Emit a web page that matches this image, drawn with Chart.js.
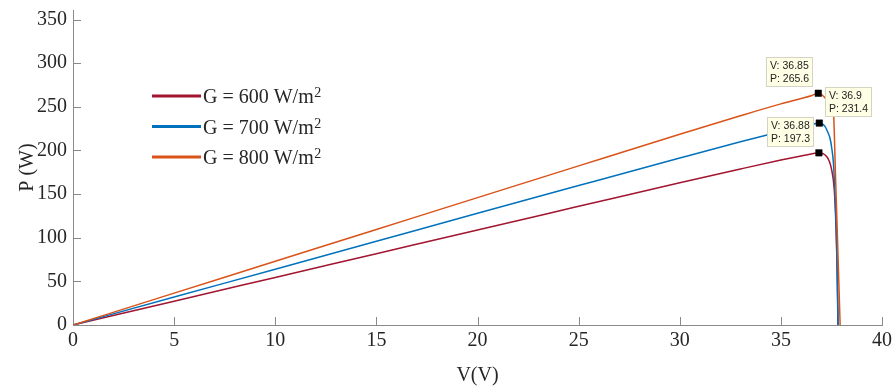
<!DOCTYPE html>
<html>
<head>
<meta charset="utf-8">
<script src="https://cdn.jsdelivr.net/npm/chart.js@4"></script>
<style>
html,body{margin:0;padding:0;background:#fff;}
</style>
</head>
<body>
<canvas id="chart" width="896" height="389"></canvas>
<script>

// =====================
// DATA
// =====================

const irradiance = [600, 700, 800];
const colors = ["#A2142F", "#0072BD", "#D95319"];

const v600 = [0,5,10,15,20,25,30,33,35,36,36.5,36.88,37.1,37.26,37.4,37.51,37.64,37.73,37.79,37.82];
const p600 = [0,27.3,54.5,81.7,108.9,136,163.1,178.8,189,193.8,196,197.3,196.2,193.2,187.5,178,155,109,52,0];

const v700 = [0,5,10,15,20,25,30,33,35,36,36.5,36.9,37.18,37.3,37.43,37.52,37.6,37.68,37.76,37.83];
const p700 = [0,32,64,96,128,159.8,191.4,210,221.8,227.3,229.7,231.4,227.6,222,214,202,185,147,90,0];

const v800 = [0,5,10,15,20,25,30,33,35,36,36.5,36.85,37.2,37.5,37.6,37.7,37.8,37.93];
const p800 = [0,36.5,73,109.5,146,182.4,218.6,239.8,253.4,259.6,262.8,265.6,260,249,243,172,98,0];

const mppV = [36.88, 36.9, 36.85];
const mppP = [197.3, 231.4, 265.6];

const xTicks = [0,5,10,15,20,25,30,35,40];
const yTicks = [0,50,100,150,200,250,300,350];

const seriesV = [v600, v700, v800];
const seriesP = [p600, p700, p800];

// =====================
// STYLE
// =====================

const axisColor = "#8a8a8a";
const textColor = "#262626";
const serif = "'Liberation Serif', 'Times New Roman', serif";

// tip box placement per series: which side of the marker
const tipSide = ["left", "right", "left"];

// =====================
// DATASETS
// =====================

const datasets = seriesV.map((vs, i) => ({
  label: "G = " + irradiance[i] + " W/m2",
  data: vs.map((v, k) => ({x: v, y: seriesP[i][k]})),
  borderColor: colors[i],
  borderWidth: 1.5,
  pointRadius: 0,
  cubicInterpolationMode: "monotone",
  fill: false,
  order: 3 - i
}));

datasets.push({
  label: "mpp",
  data: mppV.map((v, i) => ({x: v, y: mppP[i]})),
  showLine: false,
  pointStyle: "rect",
  pointRadius: 4.6,
  pointBackgroundColor: "#000",
  pointBorderColor: "#000",
  pointBorderWidth: 0.5,
  order: 0
});

// =====================
// EXTRA DRAWING
// =====================

const extras = {
  id: "extras",
  beforeDatasetsDraw(chart){
    const {ctx, chartArea:a, scales:{x, y}} = chart;
    ctx.save();
    ctx.strokeStyle = axisColor;
    ctx.lineWidth = 1;
    ctx.beginPath();
    xTicks.forEach(v => {
      const px = Math.round(x.getPixelForValue(v)) + 0.5;
      ctx.moveTo(px, a.bottom); ctx.lineTo(px, a.bottom - 8);
    });
    yTicks.forEach(v => {
      const py = Math.round(y.getPixelForValue(v)) + 0.5;
      ctx.moveTo(a.left, py); ctx.lineTo(a.left + 8, py);
    });
    ctx.stroke();
    ctx.restore();
  },
  afterDatasetsDraw(chart){
    const {ctx, chartArea:a, scales:{x, y}} = chart;
    ctx.save();

    // legend
    irradiance.forEach((g, i) => {
      const ry = a.top + 86 + i * 30.5;
      ctx.strokeStyle = colors[i];
      ctx.lineWidth = 3;
      ctx.beginPath();
      ctx.moveTo(a.left + 79, ry); ctx.lineTo(a.left + 128, ry);
      ctx.stroke();
      ctx.fillStyle = textColor;
      ctx.textBaseline = "alphabetic";
      ctx.textAlign = "left";
      ctx.font = "20px " + serif;
      const txt = "G = " + g + " W/m";
      ctx.fillText(txt, a.left + 130, ry + 7);
      const w = ctx.measureText(txt).width;
      ctx.font = "14px " + serif;
      ctx.fillText("2", a.left + 130 + w + 0.5, ry + 1);
    });

    // data tips
    ctx.font = "10.5px 'Liberation Sans', Arial, sans-serif";
    mppV.forEach((v, i) => {
      const mx = x.getPixelForValue(v);
      const my = y.getPixelForValue(mppP[i]);
      const l1 = "V: " + v, l2 = "P: " + mppP[i];
      const w = Math.round(Math.max(ctx.measureText(l1).width, ctx.measureText(l2).width) + 8);
      const h = 30;
      const bx = tipSide[i] === "left" ? Math.round(mx - 5 - w) : Math.round(mx + 6);
      const by = Math.round(my - 6 - h);
      ctx.fillStyle = "#FFFFE6";
      ctx.fillRect(bx, by, w, h);
      ctx.strokeStyle = "#d4d4c4";
      ctx.lineWidth = 1;
      ctx.strokeRect(bx + 0.5, by + 0.5, w - 1, h - 1);
      ctx.fillStyle = "#222";
      ctx.textBaseline = "middle";
      ctx.fillText(l1, bx + 4, by + 9.5);
      ctx.fillText(l2, bx + 4, by + 22);
    });

    ctx.restore();
  }
};

// =====================
// CHART
// =====================

new Chart(document.getElementById("chart"), {
  type: "line",
  data: {datasets},
  options: {
    responsive: false,
    animation: false,
    layout: {padding: {left: 0, right: 14, top: 10, bottom: 0}},
    plugins: {legend: {display: false}, tooltip: {enabled: false}},
    scales: {
      x: {
        type: "linear",
        min: 0, max: 40,
        afterBuildTicks: s => { s.ticks = xTicks.map(v => ({value: v})); },
        afterFit: s => { s.height = 64; s.paddingLeft = 0; s.paddingRight = 0; },
        grid: {display: true, drawOnChartArea: false, drawTicks: false},
        border: {display: true, color: axisColor, width: 1},
        ticks: {color: textColor, font: {family: serif, size: 20}, padding: 4, maxRotation: 0},
        title: {display: true, text: "V(V)", color: textColor, font: {family: serif, size: 20}, padding: {top: 0, bottom: 1}}
      },
      y: {
        type: "linear",
        min: 0, max: 361,
        afterBuildTicks: s => { s.ticks = yTicks.map(v => ({value: v})); },
        afterFit: s => { s.width = 73; s.paddingTop = 0; s.paddingBottom = 0; },
        grid: {display: true, drawOnChartArea: false, drawTicks: false},
        border: {display: true, color: axisColor, width: 1},
        ticks: {color: textColor, font: {family: serif, size: 20}, padding: 6},
        title: {display: true, text: "P (W)", color: textColor, font: {family: serif, size: 20}, padding: {top: 16, bottom: 0}}
      }
    }
  },
  plugins: [extras]
});
</script>
</body>
</html>
